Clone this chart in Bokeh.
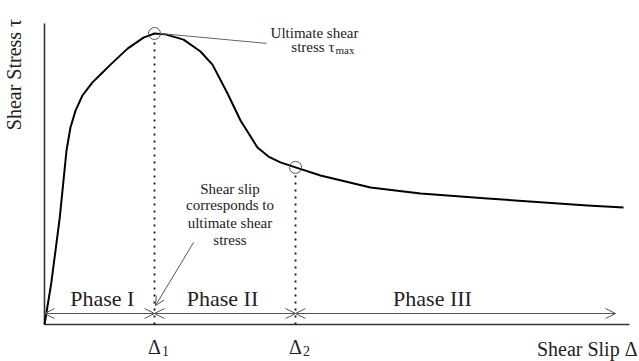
import math
from bokeh.plotting import figure
from bokeh.models import Label, Arrow, OpenHead, Range1d
from bokeh.embed import file_html
from bokeh.resources import INLINE

# ---- data (slip in units of Δ1, stress in units of τmax) ----
slip = [0.0, 0.061, 0.100, 0.139, 0.170, 0.200, 0.236, 0.282, 0.345, 0.436, 0.509,
        0.600, 0.755, 0.900, 1.0, 1.100, 1.264, 1.418, 1.527, 1.664, 1.782, 1.936,
        2.036, 2.145, 2.282, 2.509, 2.964, 3.418, 4.027, 4.936, 5.264]
stress = [0.0, 0.141, 0.254, 0.368, 0.485, 0.598, 0.677, 0.735, 0.787, 0.832, 0.859,
          0.893, 0.948, 0.986, 1.0, 0.997, 0.979, 0.938, 0.893, 0.794, 0.701, 0.608,
          0.577, 0.557, 0.540, 0.512, 0.471, 0.450, 0.433, 0.409, 0.402]
delta1 = 1.0
delta2 = 2.282
tau_max = 1.0
tau_2 = 0.540
slip_end = 5.191
axis_x_end = 5.318
axis_y_end = 1.034
phase_labels = ["Phase I", "Phase II", "Phase III"]
phase_x = [0.525, 1.618, 3.527]

FONT = "Liberation Serif"
TXT = "#222222"
GRAY = "#555555"

p = figure(width=639, height=361, output_backend="svg", toolbar_location=None,
           x_range=Range1d(-0.4, 5.409), y_range=Range1d(-0.1271, 1.1134),
           min_border=0)
p.axis.visible = False
p.grid.visible = False
p.outline_line_color = None
p.background_fill_color = "white"
p.border_fill_color = "white"

# axes lines
p.line([0, 0], [0, axis_y_end], line_color="#333333", line_width=1.6)
p.line([0, axis_x_end], [0, 0], line_color="#333333", line_width=1.6)

# dotted verticals
p.line([delta1, delta1], [0, tau_max - 0.017], line_color="#111111", line_width=1.8, line_dash="2 5")
p.line([delta2, delta2], [0, tau_2 - 0.018], line_color="#111111", line_width=1.8, line_dash="2 5")

# curve
p.line(slip, stress, line_color="black", line_width=2, line_join="round")

# circles
p.scatter([delta1, delta2], [tau_max, tau_2], marker="circle", size=12,
          fill_color=None, line_color=GRAY, line_width=1)

# phase arrows
y_arr = 0.0378
bounds = [0.0, delta1, delta2, slip_end]
for i in range(3):
    p.add_layout(Arrow(x_start=bounds[i], y_start=y_arr, x_end=bounds[i + 1], y_end=y_arr,
                       line_color=GRAY, line_width=1,
                       start=OpenHead(size=10, line_color=GRAY, line_width=1),
                       end=OpenHead(size=10, line_color=GRAY, line_width=1)))

# phase labels
for lab, xx in zip(phase_labels, phase_x):
    p.add_layout(Label(x=xx, y=0.089, text=lab, text_align="center", text_baseline="middle",
                       text_font=FONT, text_font_size="22px", text_color=TXT))

# leader for ultimate shear stress
p.line([1.055, 2.018], [1.0, 0.966], line_color="#666666", line_width=1)
p.add_layout(Label(x=2.455, y=1.003, text="Ultimate shear", text_align="center",
                   text_baseline="middle", text_font=FONT, text_font_size="15px", text_color=TXT))
p.add_layout(Label(x=2.636, y=0.955, text="stress τ", text_align="right",
                   text_baseline="middle", text_font=FONT, text_font_size="15px", text_color=TXT))
p.add_layout(Label(x=2.645, y=0.945, text="max", text_align="left",
                   text_baseline="middle", text_font=FONT, text_font_size="11px", text_color=TXT))

# shear slip annotation
for t, yy in zip(["Shear slip", "corresponds to", "ultimate shear", "stress"],
                 [0.464, 0.409, 0.349, 0.292]):
    p.add_layout(Label(x=1.686, y=yy, text=t, text_align="center", text_baseline="middle",
                       text_font=FONT, text_font_size="15px", text_color=TXT))
p.add_layout(Arrow(x_start=1.355, y_start=0.282, x_end=1.009, y_end=0.065,
                   line_color=GRAY, line_width=1,
                   end=OpenHead(size=9, line_color=GRAY, line_width=1)))

# delta labels
for xx, sub in [(delta1, "1"), (delta2, "2")]:
    p.add_layout(Label(x=xx, y=-0.076, text="Δ", text_align="center", text_baseline="middle",
                       text_font=FONT, text_font_size="20px", text_color=TXT))
    p.add_layout(Label(x=xx, y=-0.076, x_offset=11, y_offset=-4, text=sub, text_align="center",
                       text_baseline="middle", text_font=FONT, text_font_size="14px", text_color=TXT))

# axis titles
p.add_layout(Label(x=5.391, y=-0.0825, text="Shear Slip Δ", text_align="right",
                   text_baseline="middle", text_font=FONT, text_font_size="20px", text_color=TXT))
p.add_layout(Label(x=-0.273, y=0.859, text="Shear Stress τ", text_align="center",
                   text_baseline="middle", angle=math.pi / 2, text_font=FONT,
                   text_font_size="20px", text_color=TXT))

open("out.html", "w").write(file_html(p, INLINE))
